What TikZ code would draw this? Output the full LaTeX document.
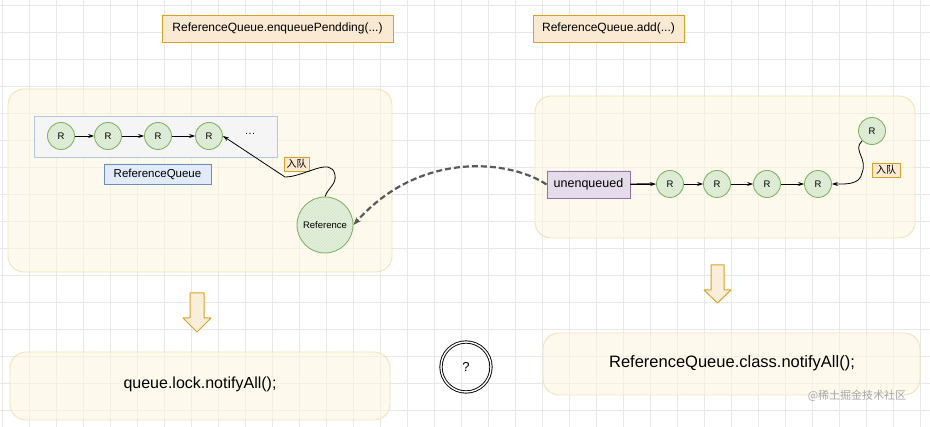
\documentclass[tikz,border=0pt]{standalone}
\usepackage{fontspec}
\setmainfont{Liberation Sans}
\newfontfamily\cjk{Noto Sans CJK SC}
\usetikzlibrary{arrows.meta, patterns, calc}
\definecolor{gfill}{HTML}{E3F0DC}
\definecolor{gline}{HTML}{82B366}
\definecolor{ofill}{HTML}{FCEBD6}
\definecolor{oline}{HTML}{D6A32A}
\definecolor{bfill}{HTML}{DAE8FC}
\definecolor{bline}{HTML}{6C8EBF}
\definecolor{pfill}{HTML}{E6DDEC}
\definecolor{pline}{HTML}{9673A6}
\definecolor{panfill}{HTML}{FDF6E0}
\definecolor{panline}{HTML}{F0E4BC}
\tikzset{
  rnode/.style = {
    circle, draw=gline, line width=0.9pt,
    preaction={fill=gfill}, pattern=north east lines, pattern color=gline!35,
    minimum size=27pt, inner sep=0pt, font=\fontsize{9.5}{10}\selectfont
  },
  lbl/.style = {
    draw=oline, line width=0.9pt,
    preaction={fill=ofill}, pattern=north east lines, pattern color=oline!25,
    inner sep=0pt, font=\fontsize{12}{13}\selectfont
  },
  panel/.style = {
    rounded corners=16pt, fill=panfill, fill opacity=0.55,
    draw=panline, line width=0.9pt
  },
  lnk/.style  = {-{Stealth[length=6pt,width=4pt]}, black, line width=0.8pt},
  darr/.style = {-{Stealth[length=8pt,width=6pt]}, black!65, line width=2.2pt,
                 dash pattern=on 6pt off 3pt},
  harr/.style = {draw=oline, line width=1pt, line join=round,
                 preaction={fill=ofill!70}, pattern=north east lines, pattern color=oline!25}
}

\begin{document}
\begin{tikzpicture}[x=1pt, y=-1pt]
  \useasboundingbox (0,0) rectangle (930,427);
  \fill[white] (0,0) rectangle (930,427);
  %% grid
  \foreach \gx in {2,29,...,929}
    \draw[black!9, line width=0.6pt] (\gx,0) -- (\gx,427);
  \foreach \gy in {5,32,...,426}
    \draw[black!9, line width=0.6pt] (0,\gy) -- (930,\gy);

  %% Top labels
  \node[lbl, minimum width=231pt, minimum height=27pt] (enq) at (277.5,28.5) {ReferenceQueue.enqueuePendding(...)};
  \node[lbl, minimum width=151pt, minimum height=27pt] (add) at (608.5,28.5) {ReferenceQueue.add(...)};

  %% Panels
  \draw[panel] (8,89) rectangle (392,272);
  \draw[panel] (535,96) rectangle (915,238);
  \draw[panel] (10,352) rectangle (390,420);
  \draw[panel] (543,333) rectangle (920,395);

  %% Left panel: the queue
  \fill[black!4, draw=bline!50, line width=0.8pt] (34,116) rectangle (277,157);
  \node[draw=bline, line width=0.9pt, preaction={fill=bfill!80}, pattern=north east lines,
        pattern color=bline!20, minimum width=107pt, minimum height=20pt, inner sep=0pt,
        font=\fontsize{11.5}{12}\selectfont] (rq) at (157.5,174) {ReferenceQueue};

  \node[rnode] (l1) at (61,136) {R};
  \node[rnode] (l2) at (108,136) {R};
  \node[rnode] (l3) at (158,136) {R};
  \node[rnode] (l4) at (209,136) {R};
  \node[font=\fontsize{11}{12}\selectfont] (dots) at (250,134) {\dots};
  \draw[lnk] (l1) -- (l2);
  \draw[lnk] (l2) -- (l3);
  \draw[lnk] (l3) -- (l4);

  \node[rnode, minimum size=56pt] (ref) at (325,225) {Reference};
  \node[lbl, minimum width=25pt, minimum height=14pt, font=\cjk\fontsize{10}{11}\selectfont] (in1) at (296.5,164) {入队};
  \coordinate (k1) at (335,175);
  \coordinate (k2) at (285,177);
  \draw[lnk] (ref.north) to[out=70, in=-80] (k1) to[out=100, in=0] (k2) -- (l4.east);

  %% Right panel: unenqueued chain
  \node[draw=pline, line width=0.9pt, preaction={fill=pfill}, pattern=north east lines,
        pattern color=pline!25, minimum width=83pt, minimum height=27pt, inner sep=0pt,
        font=\fontsize{12.5}{14}\selectfont] (unq) at (588.5,184.5) {unenqueued};
  \node[rnode] (r1) at (670,184) {R};
  \node[rnode] (r2) at (717,184) {R};
  \node[rnode] (r3) at (767,184) {R};
  \node[rnode] (r4) at (818,184) {R};
  \node[rnode] (rn) at (872,131) {R};
  \draw[lnk, line width=1.4pt] (unq) -- (r1);
  \draw[lnk] (r1) -- (r2);
  \draw[lnk] (r2) -- (r3);
  \draw[lnk] (r3) -- (r4);
  \node[lbl, minimum width=28pt, minimum height=14pt, font=\cjk\fontsize{10}{11}\selectfont] (in2) at (886,170) {入队};
  \coordinate (k3) at (862,173);
  \draw[lnk] (rn.south west) .. controls (852,150) and (868,158) .. (k3)
    to[out=-100, in=0] (r4.east);

  %% unenqueued -> Reference
  \draw[darr] (unq.west) .. controls (510,160) and (420,150) .. (ref.east);

  %% Down arrows
  \draw[harr] (190,293) -- (204,293) -- (204,318) -- (211,318) -- (197,332)
    -- (183,318) -- (190,318) -- cycle;
  \draw[harr] (711,265) -- (724,265) -- (724,290) -- (731,290) -- (717.5,303)
    -- (704,290) -- (711,290) -- cycle;

  %% Bottom texts
  \node[font=\fontsize{16}{18}\selectfont] (lock) at (200,384) {queue.lock.notifyAll();};
  \node[font=\fontsize{16.5}{18}\selectfont] (cls) at (732,363) {ReferenceQueue.class.notifyAll();};
  \node[circle, draw=black, line width=0.9pt, double, double distance=1.4pt,
        minimum size=50pt, font=\fontsize{13}{14}\selectfont] (q) at (466,367) {?};

  %% watermark
  \node[black!35, font=\cjk\fontsize{11}{12}\selectfont] (wm) at (857,396) {@稀土掘金技术社区};
\end{tikzpicture}
\end{document}
